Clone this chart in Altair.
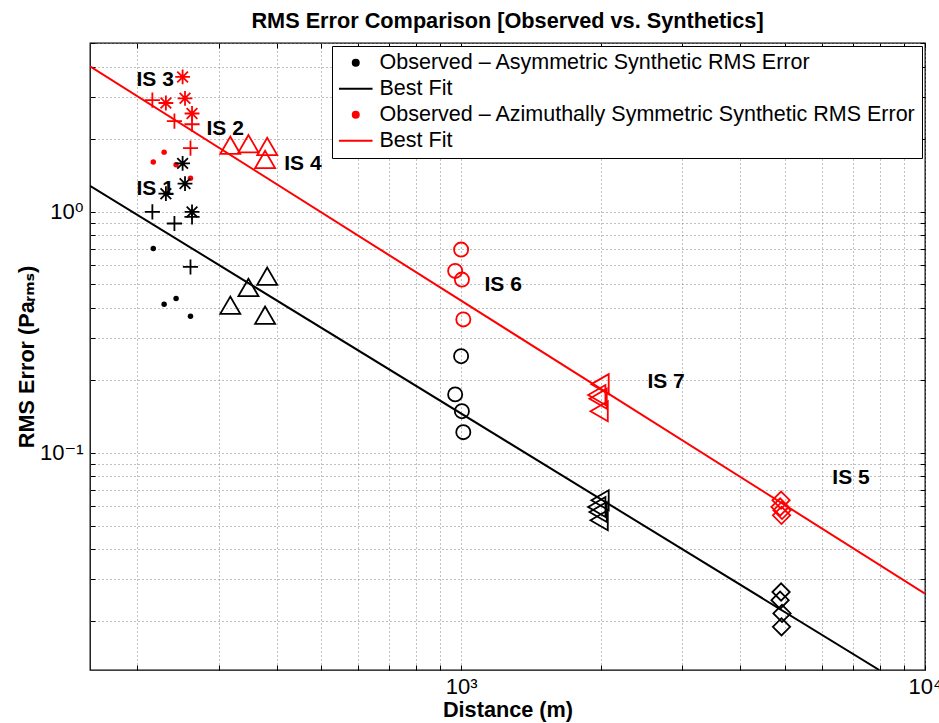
import altair as alt
import pandas as pd

FONT = "Liberation Sans, Arial, Helvetica, DejaVu Sans, sans-serif"
BLACK = "#000000"
RED = "#ff0000"

# Station distances (m) and RMS errors (Pa_rms) for each source group.
# "asym" = observed vs. asymmetric synthetic, "sym" = observed vs. azimuthally symmetric synthetic.
dot_x = [217, 229, 243, 261]
dot_asym = [0.705, 0.414, 0.437, 0.369]
dot_sym = [1.61, 1.77, 1.57, 1.38]

star_x = [231, 251, 254, 263]
star_asym = [1.19, 1.59, 1.31, 1.00]
star_sym = [2.83, 3.63, 2.96, 2.56]

plus_x = [216, 241, 263, 261]
plus_asym = [1.00, 0.895, 0.953, 0.591]
plus_sym = [2.91, 2.38, 2.31, 1.84]

tri_x = [318, 348, 382, 378]
tri_asym = [0.410, 0.486, 0.541, 0.373]
tri_sym = [1.89, 1.92, 1.87, 1.65]

circ_x = [1000, 971, 1004, 1011]
circ_asym = [0.252, 0.175, 0.149, 0.122]
circ_sym = [0.698, 0.569, 0.524, 0.358]

ltri_x = [1993, 1961, 1974, 1984]
ltri_asym = [0.0637, 0.0597, 0.0569, 0.0526]
ltri_sym = [0.193, 0.174, 0.168, 0.149]

diam_x = [4895, 4871, 4918, 4905]
diam_asym = [0.0265, 0.0245, 0.0216, 0.0190]
diam_sym = [0.0637, 0.0597, 0.0578, 0.0551]

# Power-law best fits, as end points of the straight log-log lines
fit_asym_x = [158.5, 7970]
fit_asym_y = [1.282, 0.01258]
fit_sym_x = [158.5, 10000]
fit_sym_y = [4.02, 0.0261]

# Source group annotations
lab_text = ["IS 1", "IS 2", "IS 3", "IS 4", "IS 5", "IS 6", "IS 7"]
lab_x = [219, 310, 219, 456, 6926, 1232, 2766]
lab_y = [1.242, 2.204, 3.52, 1.577, 0.0785, 0.4965, 0.197]

# Legend entries
leg_keys = ["obs_asym", "fit_asym", "obs_sym", "fit_sym"]
leg_labels = [
    "Observed \u2013 Asymmetric Synthetic RMS Error",
    "Best Fit",
    "Observed \u2013 Azimuthally Symmetric Synthetic RMS Error",
    "Best Fit",
]

# Grid / tick positions (every decade subdivision) and labelled decades
x_grid = [200, 300, 400, 500, 600, 700, 800, 900, 1000,
          2000, 3000, 4000, 5000, 6000, 7000, 8000, 9000, 10000]
y_grid = [0.02, 0.03, 0.04, 0.05, 0.06, 0.07, 0.08, 0.09, 0.1,
          0.2, 0.3, 0.4, 0.5, 0.6, 0.7, 0.8, 0.9, 1,
          2, 3, 4, 5]

PLUS = "M-1,0L1,0M0,-1L0,1"
STAR = "M-1,0L1,0M0,-1L0,1M-0.72,-0.72L0.72,0.72M-0.72,0.72L0.72,-0.72"
LEG_LINE = "M-5.6,0L5.6,0"
TICK = 5  # inward tick length

# marker style per group: (x, asym y, sym y, shape, size, filled)
groups = [
    (dot_x, dot_asym, dot_sym, "circle", 30, True),
    (star_x, star_asym, star_sym, STAR, 220, False),
    (plus_x, plus_asym, plus_sym, PLUS, 230, False),
    (tri_x, tri_asym, tri_sym, "triangle-up", 400, False),
    (circ_x, circ_asym, circ_sym, "circle", 200, False),
    (ltri_x, ltri_asym, ltri_sym, "triangle-left", 400, False),
    (diam_x, diam_asym, diam_sym, "diamond", 300, False),
]

x_scale = alt.Scale(type="log", domain=[158.5, 10000], nice=False)
y_scale = alt.Scale(type="log", domain=[0.01258, 5.02], nice=False)

# bottom / left axes: ticks pulled inside the frame by a negative offset
x_axis = alt.Axis(
    values=x_grid,
    labelExpr="datum.value == 1000 ? '10\u00b3' : (datum.value == 10000 ? '10\u2074' : '')",
    title="Distance (m)",
    labelOverlap=False,
    labelFlush=False,
    offset=-TICK,
    ticks=True,
    tickSize=TICK,
    labelPadding=6,
    titlePadding=2,
)
y_axis = alt.Axis(
    values=y_grid,
    labelExpr="datum.value == 1 ? '10\u2070' : (datum.value == 0.1 ? '10\u207b\u00b9' : '')",
    title="RMS Error (Pa\u1d63\u2098\u209b)",
    labelOverlap=False,
    labelFlush=False,
    offset=-TICK,
    ticks=True,
    tickSize=TICK,
    labelPadding=7,
    titleX=-69,
    titleY=313.5,
    titleBaseline="middle",
)

# top / right axes: tick marks only, mirrored on the frame
x_axis_top = alt.Axis(
    orient="top", values=x_grid, labels=False, grid=False, title=None,
    offset=-TICK, ticks=True, tickSize=TICK,
)
y_axis_right = alt.Axis(
    orient="right", values=y_grid, labels=False, grid=False, title=None,
    offset=-TICK, ticks=True, tickSize=TICK,
)


def xy(xa=x_axis, ya=y_axis):
    return dict(
        x=alt.X("x:Q", scale=x_scale, axis=xa),
        y=alt.Y("y:Q", scale=y_scale, axis=ya),
    )


layers = []

# best-fit lines
for fx, fy, col in [(fit_asym_x, fit_asym_y, BLACK), (fit_sym_x, fit_sym_y, RED)]:
    layers.append(
        alt.Chart(pd.DataFrame({"x": fx, "y": fy}))
        .mark_line(strokeWidth=2, clip=True)
        .encode(color=alt.value(col), **xy())
    )

# observation markers
for gx, g_asym, g_sym, shape, size, filled in groups:
    for gy, col in [(g_asym, BLACK), (g_sym, RED)]:
        layers.append(
            alt.Chart(pd.DataFrame({"x": gx, "y": gy}))
            .mark_point(
                shape=shape,
                size=size,
                filled=filled,
                opacity=1,
                strokeWidth=0 if filled else 1.8,
                clip=True,
            )
            .encode(color=alt.value(col), **xy())
        )

# group annotations
layers.append(
    alt.Chart(pd.DataFrame({"x": lab_x, "y": lab_y, "t": lab_text}))
    .mark_text(font=FONT, fontSize=21, fontWeight="bold", align="center",
               baseline="middle", color=BLACK)
    .encode(text="t:N", **xy())
)

# legend (entries only; rows carry no position so nothing is plotted)
label_expr = " : ".join(
    f"datum.label == '{k}' ? '{l}'" for k, l in zip(leg_keys, leg_labels)
) + " : datum.label"
legend = alt.Legend(
    title=None,
    orient="top-right",
    offset=3,
    padding=6,
    strokeColor=BLACK,
    fillColor="white",
    labelFont=FONT,
    labelFontSize=21.5,
    labelColor=BLACK,
    labelLimit=0,
    labelOffset=13,
    labelExpr=label_expr,
    symbolSize=36,
    symbolOffset=7,
    symbolStrokeWidth=2,
    rowPadding=3,
)
leg_df = pd.DataFrame({"k": leg_keys, "x": [None] * 4, "y": [None] * 4})
leg_colors = [BLACK, BLACK, RED, RED]
layers.append(
    alt.Chart(leg_df)
    .mark_point(opacity=1, filled=True)
    .encode(
        fill=alt.Fill("k:N", scale=alt.Scale(domain=leg_keys, range=leg_colors), legend=legend),
        stroke=alt.Stroke("k:N", scale=alt.Scale(domain=leg_keys, range=leg_colors), legend=legend),
        shape=alt.Shape("k:N", scale=alt.Scale(domain=leg_keys, range=["circle", LEG_LINE, "circle", LEG_LINE]), legend=legend),
        **xy(),
    )
)

main = alt.layer(*layers)

# empty layer that only carries the mirrored top/right tick marks
frame_ticks = (
    alt.Chart(pd.DataFrame({"x": [None], "y": [None]}))
    .mark_point(opacity=0)
    .encode(**xy(x_axis_top, y_axis_right))
)

chart = (
    alt.layer(main, frame_ticks)
    .resolve_axis(x="independent", y="independent")
    .properties(
        width=835,
        height=627,
        padding={"left": 90, "top": 43, "right": 14, "bottom": 53},
        autosize=alt.AutoSizeParams(type="none"),
        title=alt.TitleParams(
            "RMS Error Comparison [Observed vs. Synthetics]",
            font=FONT,
            fontSize=21.7,
            fontWeight="bold",
            color=BLACK,
            anchor="middle",
            offset=0,
        ),
    )
    .configure(background="white")
    .configure_view(stroke=BLACK, strokeWidth=1.3, fill="white")
    .configure_axis(
        grid=True,
        gridColor="#808080",
        gridDash=[1, 3],
        gridWidth=1,
        gridOpacity=1,
        domain=False,
        tickColor=BLACK,
        tickWidth=1,
        labelFont=FONT,
        labelFontSize=22,
        labelColor=BLACK,
        titleFont=FONT,
        titleFontSize=21.7,
        titleFontWeight="bold",
        titleColor=BLACK,
    )
)

chart.save("out.html", embed_options={"renderer": "svg", "actions": False})
